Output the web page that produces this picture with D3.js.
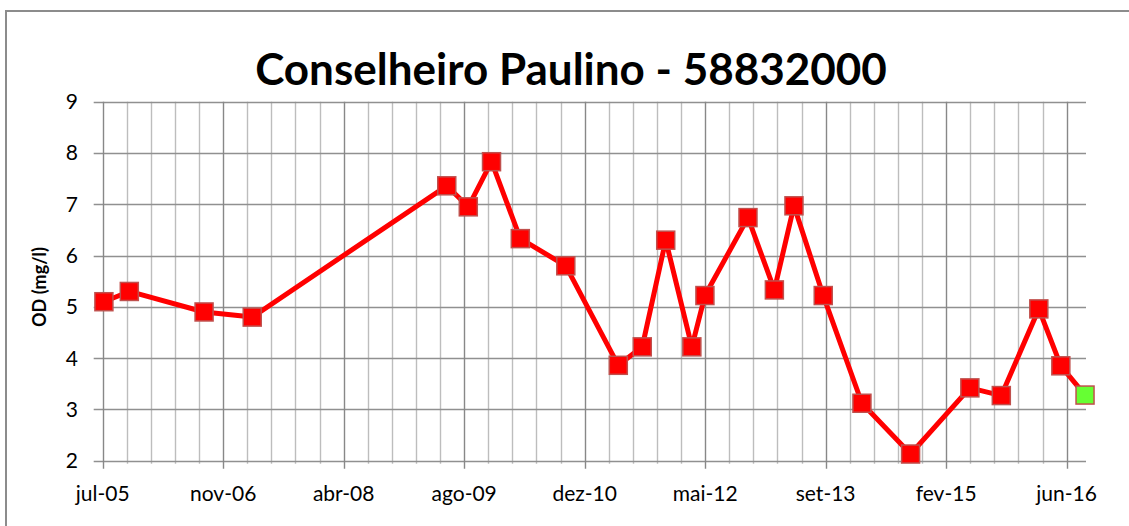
<!DOCTYPE html>
<meta charset="utf-8">
<script src="https://d3js.org/d3.v7.min.js"></script>
<style>
  body { margin: 0; background: #fff; }
  text { font-family: Lato, "Open Sans", sans-serif; }
</style>
<div id="chart"></div>
<script>
// sampling dates and dissolved oxygen (mg/l)
var datas = ["2005-07-23", "2005-11-05", "2006-09-10", "2007-03-28", "2009-06-09",
  "2009-09-06", "2009-12-11", "2010-04-09", "2010-10-14", "2011-05-19",
  "2011-08-26", "2011-12-01", "2012-03-18", "2012-05-11", "2012-11-05",
  "2013-02-22", "2013-05-14", "2013-09-12", "2014-02-19", "2014-09-08",
  "2015-05-11", "2015-09-18", "2016-02-20", "2016-05-21", "2016-08-29"];
var od = [5.10, 5.30, 4.90, 4.80, 7.36, 6.95, 7.83, 6.33, 5.80, 3.86,
  4.22, 6.30, 4.22, 5.22, 6.74, 5.33, 6.97, 5.22, 3.12, 2.13,
  3.42, 3.27, 4.96, 3.85, 3.28];
var tickLabels = ["jul-05", "nov-06", "abr-08", "ago-09", "dez-10", "mai-12", "set-13", "fev-15", "jun-16"];
var yTicks = [2, 3, 4, 5, 6, 7, 8, 9];
var xInicio = "2005-07-18", xFim = "2016-09-02";
var passoMaior = 498; // days between labelled ticks

var W = 1129, H = 526;
var margin = {top: 101.7, right: 43, bottom: 65.3, left: 102.7};

var parse = d3.utcParse("%Y-%m-%d");
var dados = datas.map(function(d, i) { return {data: parse(d), v: od[i]}; });
var x0 = parse(xInicio), x1 = parse(xFim);

var svg = d3.select("#chart").append("svg")
  .attr("width", W).attr("height", H);

// outer chart border
svg.append("rect")
  .attr("x", 6).attr("y", 11)
  .attr("width", W + 20).attr("height", H + 20)
  .attr("fill", "none").attr("stroke", "#8c8c8c").attr("stroke-width", 2);

var x = d3.scaleUtc().domain([x0, x1]).range([margin.left, W - margin.right]);
var y = d3.scaleLinear().domain([2, 9]).range([H - margin.bottom, margin.top]);

function addDays(d, n) { return new Date(d.getTime() + n * 864e5); }

var menores = [], maiores = [];
for (var k = 0; addDays(x0, k * passoMaior / 5) <= x1; k++) {
  if (k % 5 == 0) maiores.push(addDays(x0, k * passoMaior / 5));
  else menores.push(addDays(x0, k * passoMaior / 5));
}

// minor vertical gridlines
svg.append("g").selectAll("line").data(menores).enter().append("line")
  .attr("x1", function(d) { return Math.round(x(d)) + 0.5; })
  .attr("x2", function(d) { return Math.round(x(d)) + 0.5; })
  .attr("y1", y(9)).attr("y2", y(2) + 3)
  .attr("stroke", "#bdbdbd").attr("stroke-width", 1.4);

// horizontal gridlines
svg.append("g").selectAll("line").data(yTicks).enter().append("line")
  .attr("x1", margin.left - 9).attr("x2", W - margin.right)
  .attr("y1", function(d) { return Math.round(y(d)) + 0.5; })
  .attr("y2", function(d) { return Math.round(y(d)) + 0.5; })
  .attr("stroke", "#909090").attr("stroke-width", 1.4);

// major vertical gridlines
svg.append("g").selectAll("line").data(maiores).enter().append("line")
  .attr("x1", function(d) { return Math.round(x(d)) + 0.5; })
  .attr("x2", function(d) { return Math.round(x(d)) + 0.5; })
  .attr("y1", y(9)).attr("y2", y(2) + 8)
  .attr("stroke", "#888").attr("stroke-width", 1.4);

// y tick labels
svg.append("g").selectAll("text").data(yTicks).enter().append("text")
  .attr("x", 78).attr("y", function(d) { return y(d) + 7.5; })
  .attr("text-anchor", "end")
  .style("font-size", "21px").attr("fill", "#000")
  .text(function(d) { return d; });

// x tick labels
svg.append("g").selectAll("text").data(maiores).enter().append("text")
  .attr("x", function(d) { return x(d); }).attr("y", 501)
  .attr("text-anchor", "middle")
  .style("font-size", "21px").attr("fill", "#000")
  .text(function(d, i) { return tickLabels[i]; });

// axis title
svg.append("text")
  .attr("transform", "translate(46,287) rotate(-90)")
  .attr("text-anchor", "middle")
  .style("font-size", "18px").style("font-weight", "bold")
  .text("OD (mg/l)");

// chart title
svg.append("text")
  .attr("x", 571).attr("y", 85)
  .attr("text-anchor", "middle")
  .style("font-size", "44px").style("font-weight", "bold")
  .text("Conselheiro Paulino - 58832000");

var linha = d3.line()
  .x(function(d) { return x(d.data); })
  .y(function(d) { return y(d.v); });

svg.append("path").datum(dados)
  .attr("d", linha)
  .attr("fill", "none").attr("stroke", "#ff0000")
  .attr("stroke-width", 5).attr("stroke-linejoin", "round");

var s = 18;
svg.append("g").selectAll("rect").data(dados).enter().append("rect")
  .attr("x", function(d) { return x(d.data) - s / 2; })
  .attr("y", function(d) { return y(d.v) - s / 2; })
  .attr("width", s).attr("height", s)
  .attr("fill", function(d, i) { return i == dados.length - 1 ? "#66ff33" : "#ff0000"; })
  .attr("stroke", "#c0504d").attr("stroke-width", 1.5);
</script>
